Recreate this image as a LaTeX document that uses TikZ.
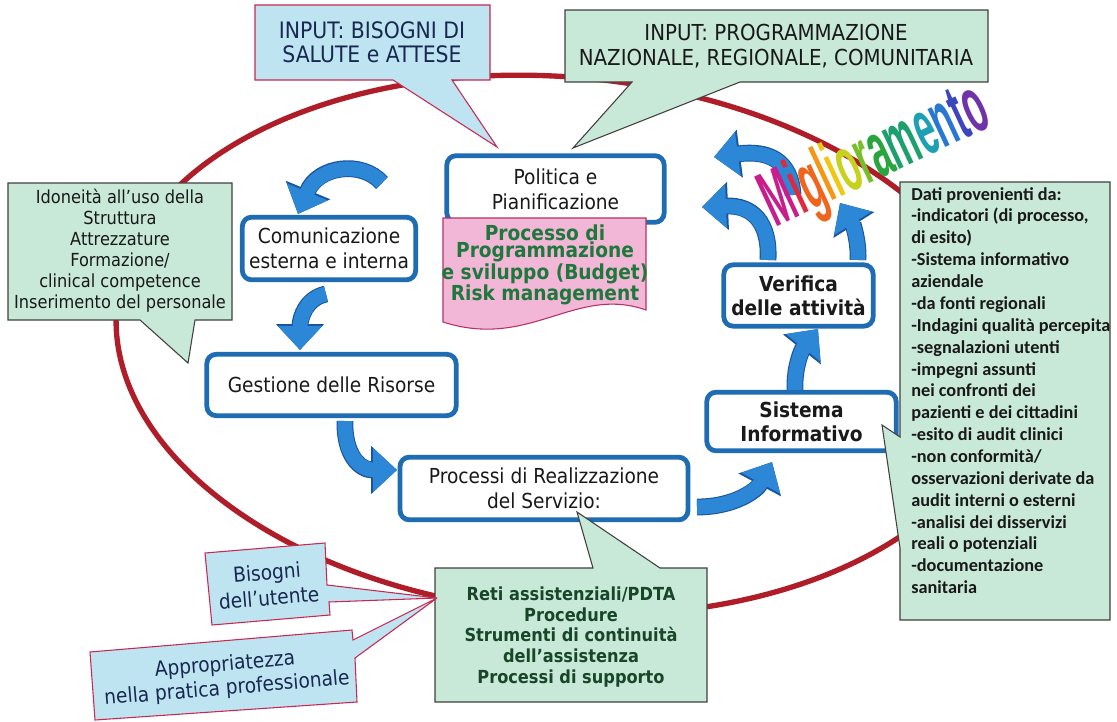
\documentclass[tikz,border=0pt]{standalone}
\usepackage{fontspec}
\setmainfont{DejaVu Sans}[FakeStretch=0.9]
\newfontfamily\datifont{Carlito}
\newfontfamily\wordfont{Liberation Sans}
\usetikzlibrary{arrows.meta}
\definecolor{procblue}{RGB}{30,108,180}
\definecolor{arrowblue}{RGB}{45,135,215}
\definecolor{arrowrim}{RGB}{25,85,160}
\definecolor{ringred}{RGB}{175,30,40}
\definecolor{callblue}{RGB}{190,228,242}
\definecolor{callgreen}{RGB}{200,232,216}
\definecolor{callrim}{RGB}{200,40,80}
\definecolor{pinkfill}{RGB}{242,182,215}
\definecolor{pinkrim}{RGB}{180,50,100}
\definecolor{budgetgreen}{RGB}{30,120,60}
\definecolor{retigreen}{RGB}{25,70,40}
\definecolor{navytext}{RGB}{25,40,80}
\definecolor{inktext}{RGB}{25,25,25}
\definecolor{mgA}{RGB}{200,30,140}
\definecolor{mgB}{RGB}{225,40,60}
\definecolor{mgC}{RGB}{240,100,30}
\definecolor{mgD}{RGB}{245,150,20}
\definecolor{mgE}{RGB}{240,200,20}
\definecolor{mgF}{RGB}{200,210,30}
\definecolor{mgG}{RGB}{120,190,40}
\definecolor{mgH}{RGB}{40,165,60}
\definecolor{mgI}{RGB}{30,160,110}
\definecolor{mgJ}{RGB}{30,160,180}
\definecolor{mgK}{RGB}{40,120,210}
\definecolor{mgL}{RGB}{60,70,190}
\definecolor{mgM}{RGB}{110,50,170}
\begin{document}
\begin{tikzpicture}[x=0.75pt,y=-0.75pt,
    proc/.style={draw=procblue,line width=3.6pt,rounded corners=7pt,fill=white,align=center,
      text=inktext,inner sep=2pt,font=\fontsize{15.5}{19}\selectfont},
    procbold/.style={proc,font=\bfseries\fontsize{15.5}{18}\selectfont},
    flow/.style={arrowblue,line width=11pt,-{Triangle[length=18pt,width=32pt]},
      preaction={draw=arrowrim,line width=12.6pt,-{Triangle[length=19.5pt,width=35pt]}}},
    bluecall/.style={fill=callblue,draw=callrim,line width=0.8pt},
    greencall/.style={fill=callgreen,draw=black!75,line width=0.8pt}]
  \fill[white] (0,0) rectangle (1117,721);
  \useasboundingbox (0,0) rectangle (1117,721);

  % ring
  \draw[ringred,line width=4pt,rotate around={-5:(560,345)}] (560,345) ellipse [x radius=445,y radius=268];

  % process boxes
  \node[proc,minimum width=163pt,minimum height=50pt] (pol) at (555.5,189) {Politica e\\Pianificazione};
  \draw[fill=pinkfill,draw=pinkrim,line width=0.8pt] (443,218) -- (646,218) -- (646,310)
    .. controls (575,285) and (530,350) .. (443,322) -- cycle;
  \node[align=center,text=budgetgreen,font=\bfseries\fontsize{15.5}{13}\selectfont] (budget) at (545,265)
    {Processo di\\Programmazione\\e sviluppo (Budget)\\Risk management};
  \node[proc,minimum width=130pt,minimum height=47pt] (com) at (329,248.5) {Comunicazione\\esterna e interna};
  \node[proc,minimum width=187pt,minimum height=46pt] (ges) at (331.5,385) {Gestione delle Risorse};
  \node[proc,minimum width=216pt,minimum height=47pt] (real) at (544,488.5) {Processi di Realizzazione\\del Servizio:};
  \node[procbold,minimum width=142pt,minimum height=44pt] (sis) at (801.5,421.5) {Sistema\\Informativo};
  \node[procbold,minimum width=112pt,minimum height=46pt] (ver) at (798.5,295.5) {Verifica\\delle attività};

  % cycle arrows
  \coordinate (pc1) at (382,183); \coordinate (pc2) at (298,214);
  \draw[flow] (pc1) .. controls (362,160) and (318,166) .. (pc2);
  \coordinate (cg1) at (326,294); \coordinate (cg2) at (300,350);
  \draw[flow] (cg1) .. controls (306,298) and (300,318) .. (cg2);
  \coordinate (gr1) at (345,421); \coordinate (gr2) at (397,470);
  \draw[flow] (gr1) .. controls (344,455) and (360,470) .. (gr2);
  \coordinate (rs1) at (697,507); \coordinate (rs2) at (772,462);
  \draw[flow] (rs1) .. controls (735,507) and (757,490) .. (rs2);
  \coordinate (sv1) at (795,390); \coordinate (sv2) at (818,329);
  \draw[flow] (sv1) .. controls (794,365) and (803,348) .. (sv2);
  \coordinate (va1) at (768,260); \coordinate (va2) at (702,207);
  \draw[flow] (va1) .. controls (770,222) and (752,205) .. (va2);
  \coordinate (vb1) at (793,195); \coordinate (vb2) at (714,157);
  \draw[flow] (vb1) .. controls (791,160) and (768,150) .. (vb2);
  \coordinate (vc1) at (858,260); \coordinate (vc2) at (840,203);
  \draw[flow] (vc1) .. controls (859,240) and (852,222) .. (vc2);

  % callouts
  \draw[bluecall] (255,5) -- (490,5) -- (490,80) -- (452,80) -- (497,147) -- (393,80) -- (255,80) -- cycle;
  \node[align=center,text=navytext,font=\fontsize{17}{18}\selectfont] (salute) at (372,42)
    {INPUT: BISOGNI DI\\SALUTE e ATTESE};
  \draw[greencall] (565,10) -- (988,10) -- (988,82) -- (740,82) -- (573,148) -- (632,82) -- (565,82) -- cycle;
  \node[align=center,text=inktext,font=\fontsize{16.5}{18.5}\selectfont] (progr) at (776,46)
    {INPUT: PROGRAMMAZIONE\\NAZIONALE, REGIONALE, COMUNITARIA};
  \draw[greencall] (8,183) -- (232,183) -- (232,320) -- (195,320) -- (188,363) -- (140,320) -- (8,320) -- cycle;
  \node[align=center,text=inktext,font=\fontsize{13.5}{15.75}\selectfont] (idon) at (120,251)
    {Idoneità all’uso della\\Struttura\\Attrezzature\\Formazione/\\clinical competence\\Inserimento del personale};
  \draw[greencall] (900,182) -- (1110,182) -- (1110,620) -- (900,620) -- (900,548) -- (882,425) -- (900,437) -- cycle;
  \node[anchor=north west,align=left,inner sep=3pt,text=inktext,font=\datifont\bfseries\fontsize{13.7}{16.4}\selectfont]
    (dati) at (907,183)
    {Dati provenienti da:\\-indicatori (di processo,\\di esito)\\-Sistema informativo\\aziendale\\-da fonti regionali\\
     -Indagini qualità percepita\\-segnalazioni utenti\\-impegni assunti\\nei confronti dei\\pazienti e dei cittadini\\
     -esito di audit clinici\\-non conformità/\\osservazioni derivate da\\audit interni o esterni\\-analisi dei disservizi\\
     reali o potenziali\\-documentazione\\sanitaria};
  \draw[greencall] (435,568) -- (593,568) -- (577,512) -- (660,568) -- (707,568) -- (707,702) -- (435,702) -- cycle;
  \node[align=center,text=retigreen,font=\bfseries\fontsize{13.5}{15.5}\selectfont] (reti) at (571,637)
    {Reti assistenziali/PDTA\\Procedure\\Strumenti di continuità\\dell’assistenza\\Processi di supporto};
  \draw[bluecall] (90,652) -- (352,630) -- (353,640) -- (437,598) -- (355,658) -- (357,702) -- (95,720) -- cycle;
  \node[rotate=4.8,align=center,text=navytext,font=\fontsize{15.5}{18}\selectfont] (appr) at (226,677)
    {Appropriatezza\\nella pratica professionale};
  \draw[bluecall] (205,553) -- (325,543) -- (327,585) -- (437,598) -- (329,602) -- (330,615) -- (212,625) -- cycle;
  \node[rotate=4.8,align=center,text=navytext,font=\fontsize{15.5}{19}\selectfont] (bisogni) at (268,585)
    {Bisogni\\dell’utente};

  % word art
  \node[rotate=25,xscale=0.6,yscale=1.35,inner sep=0pt,font=\wordfont\bfseries\fontsize{44}{44}\selectfont] (migl) at (876,158)
    {\textcolor{mgA}{M}\textcolor{mgB}{i}\textcolor{mgC}{g}\textcolor{mgD}{l}\textcolor{mgE}{i}\textcolor{mgF}{o}%
     \textcolor{mgG}{r}\textcolor{mgH}{a}\textcolor{mgI}{m}\textcolor{mgJ}{e}\textcolor{mgK}{n}\textcolor{mgL}{t}\textcolor{mgM}{o}};
\end{tikzpicture}
\end{document}
